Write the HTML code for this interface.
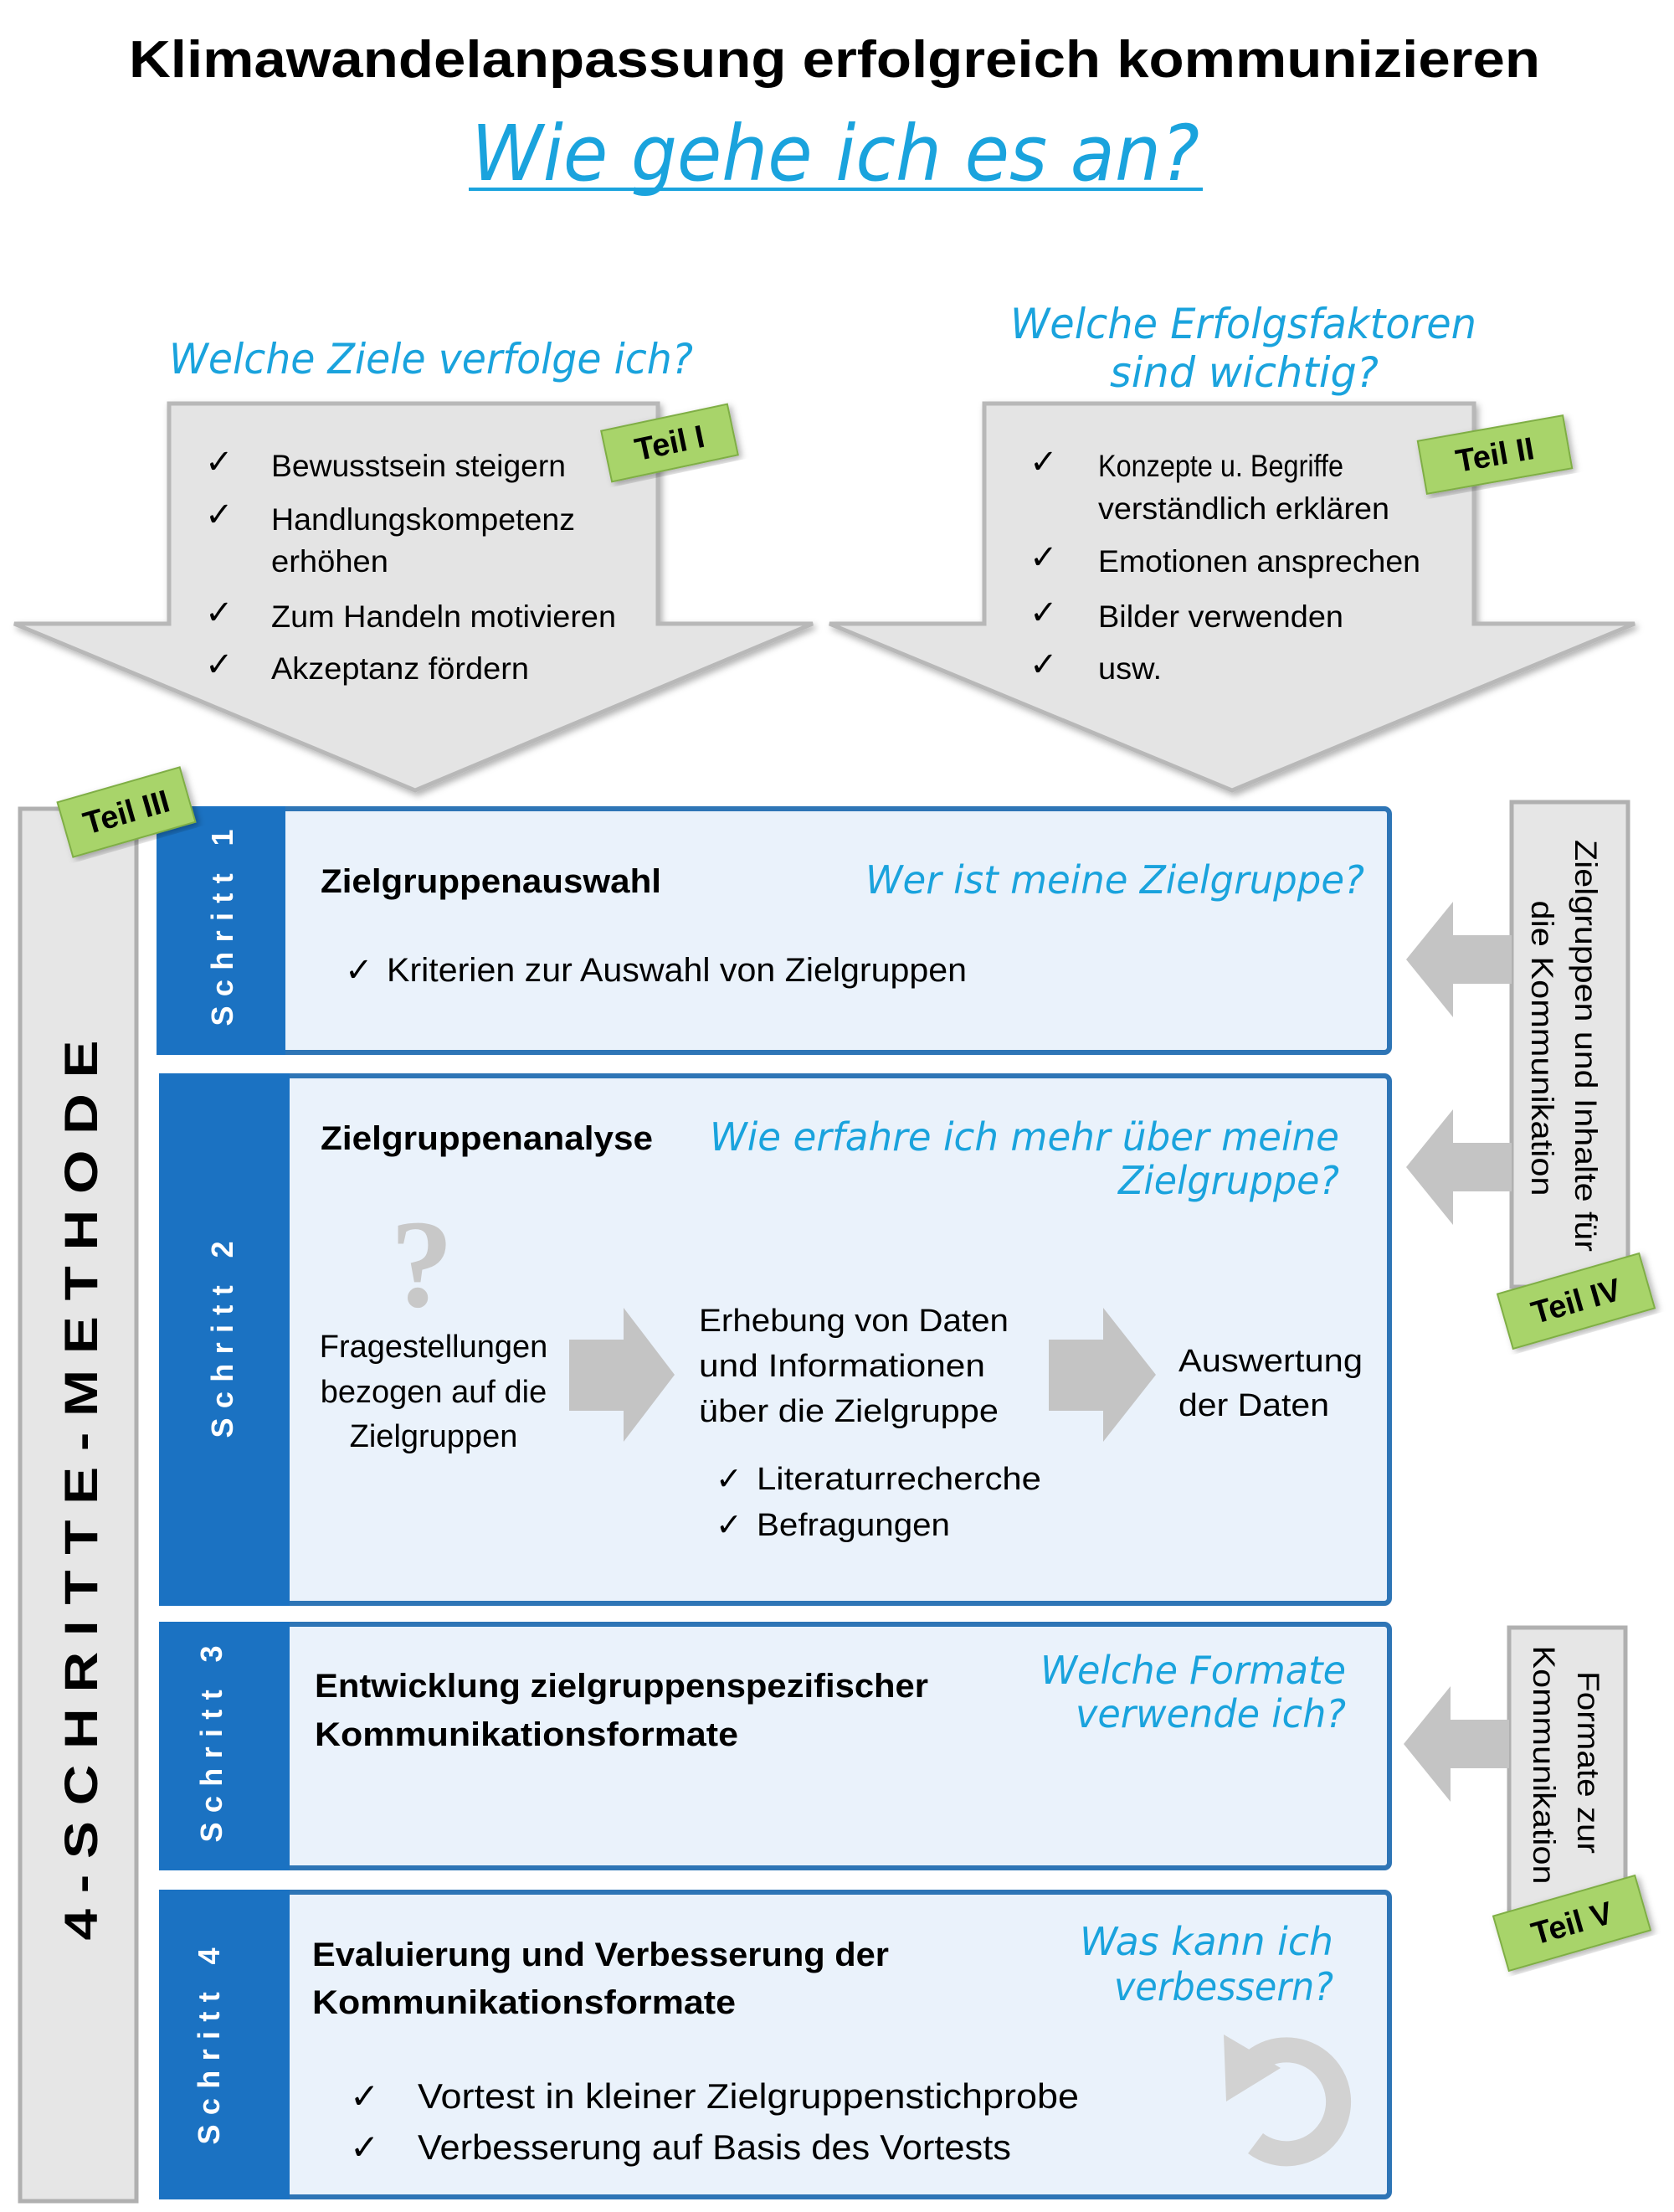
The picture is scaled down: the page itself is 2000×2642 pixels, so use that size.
<!DOCTYPE html>
<html><head><meta charset="utf-8"><style>
html,body{margin:0;padding:0;background:#fff;}
svg{display:block;}
.t{font-family:"Liberation Sans",sans-serif;}
.q{font-family:"DejaVu Sans","Liberation Sans",sans-serif;font-style:italic;fill:#1aa3dd;}
</style></head><body>
<svg width="2000" height="2642" viewBox="0 0 2000 2642" xmlns="http://www.w3.org/2000/svg">
<defs>
<filter id="sh" x="-10%" y="-10%" width="120%" height="120%"><feDropShadow dx="3" dy="4" stdDeviation="4" flood-color="#000" flood-opacity="0.3"/></filter>
</defs>
<!-- Title -->
<text class="t" x="997" y="92" text-anchor="middle" font-size="62" font-weight="bold" textLength="1686" lengthAdjust="spacingAndGlyphs">Klimawandelanpassung erfolgreich kommunizieren</text>
<text class="q" x="998" y="215" text-anchor="middle" font-size="92" textLength="870" lengthAdjust="spacingAndGlyphs">Wie gehe ich es an?</text>
<line x1="560" y1="226" x2="1437" y2="226" stroke="#1aa3dd" stroke-width="4"/>

<!-- question headers -->
<text class="q" x="202" y="446" font-size="50" textLength="626" lengthAdjust="spacingAndGlyphs">Welche Ziele verfolge ich?</text>
<text class="q" x="1207" y="404" font-size="50" textLength="557" lengthAdjust="spacingAndGlyphs">Welche Erfolgsfaktoren</text>
<text class="q" x="1326" y="462" font-size="50" textLength="321" lengthAdjust="spacingAndGlyphs">sind wichtig?</text>

<!-- big arrows -->
<polygon points="202,482 786,482 786,745 971,745 496,944 17,745 202,745" fill="#e4e4e4" stroke="#b8b8b8" stroke-width="5" filter="url(#sh)"/>
<polygon points="1176,482 1761,482 1761,745 1953,745 1472,944 991,745 1176,745" fill="#e4e4e4" stroke="#b8b8b8" stroke-width="5" filter="url(#sh)"/>

<g class="t" font-size="37">
<text x="245" y="565" font-size="40">✓</text><text x="324" y="569" textLength="352" lengthAdjust="spacingAndGlyphs">Bewusstsein steigern</text>
<text x="245" y="628" font-size="40">✓</text><text x="324" y="633" textLength="363" lengthAdjust="spacingAndGlyphs">Handlungskompetenz</text>
<text x="324" y="683" textLength="140" lengthAdjust="spacingAndGlyphs">erhöhen</text>
<text x="245" y="745" font-size="40">✓</text><text x="324" y="749" textLength="412" lengthAdjust="spacingAndGlyphs">Zum Handeln motivieren</text>
<text x="245" y="807" font-size="40">✓</text><text x="324" y="811" textLength="308" lengthAdjust="spacingAndGlyphs">Akzeptanz fördern</text>

<text x="1230" y="565" font-size="40">✓</text><text x="1312" y="569" textLength="293" lengthAdjust="spacingAndGlyphs">Konzepte u. Begriffe</text>
<text x="1312" y="620" textLength="348" lengthAdjust="spacingAndGlyphs">verständlich erklären</text>
<text x="1230" y="679" font-size="40">✓</text><text x="1312" y="683" textLength="385" lengthAdjust="spacingAndGlyphs">Emotionen ansprechen</text>
<text x="1230" y="745" font-size="40">✓</text><text x="1312" y="749" textLength="293" lengthAdjust="spacingAndGlyphs">Bilder verwenden</text>
<text x="1230" y="807" font-size="40">✓</text><text x="1312" y="811" textLength="76" lengthAdjust="spacingAndGlyphs">usw.</text>
</g>

<!-- left bar -->
<rect x="24" y="966" width="139" height="1663" fill="#e6e6e6" stroke="#b0b0b0" stroke-width="5"/>
<text class="t" transform="translate(116,1780) rotate(-90)" text-anchor="middle" font-size="56" font-weight="bold" textLength="1075" lengthAdjust="spacingAndGlyphs">4 - S C H R I T T E - M E T H O D E</text>

<!-- Schritt boxes -->
<g stroke="#2e75b6" stroke-width="6">
<rect x="190" y="966" width="1470" height="291" rx="6" fill="#eaf2fb"/>
<rect x="193" y="1285" width="1467" height="630" rx="6" fill="#eaf2fb"/>
<rect x="193" y="1940" width="1467" height="291" rx="6" fill="#eaf2fb"/>
<rect x="193" y="2260" width="1467" height="364" rx="6" fill="#eaf2fb"/>
</g>
<g fill="#1b72c2">
<rect x="187" y="963" width="154" height="297"/>
<rect x="190" y="1282" width="156" height="636"/>
<rect x="190" y="1937" width="156" height="297"/>
<rect x="190" y="2257" width="156" height="370"/>
</g>
<g class="t" fill="#fff" font-size="36" font-weight="bold" text-anchor="middle">
<text transform="translate(278,1108) rotate(-90)" textLength="235" lengthAdjust="spacing">Schritt 1</text>
<text transform="translate(278,1600) rotate(-90)" textLength="235" lengthAdjust="spacing">Schritt 2</text>
<text transform="translate(265,2083) rotate(-90)" textLength="235" lengthAdjust="spacing">Schritt 3</text>
<text transform="translate(262,2444) rotate(-90)" textLength="235" lengthAdjust="spacing">Schritt 4</text>
</g>

<!-- box1 -->
<text class="t" x="383" y="1066" font-size="40" font-weight="bold" textLength="407" lengthAdjust="spacingAndGlyphs">Zielgruppenauswahl</text>
<text class="q" x="1034" y="1067" font-size="46" textLength="596" lengthAdjust="spacingAndGlyphs">Wer ist meine Zielgruppe?</text>
<text class="t" x="412" y="1172" font-size="40">✓</text>
<text class="t" x="462" y="1172" font-size="40" textLength="693" lengthAdjust="spacingAndGlyphs">Kriterien zur Auswahl von Zielgruppen</text>

<!-- box2 -->
<text class="t" x="383" y="1373" font-size="40" font-weight="bold" textLength="397" lengthAdjust="spacingAndGlyphs">Zielgruppenanalyse</text>
<text class="q" x="848" y="1374" font-size="46" textLength="752" lengthAdjust="spacingAndGlyphs">Wie erfahre ich mehr über meine</text>
<text class="q" x="1336" y="1426" font-size="46" textLength="264" lengthAdjust="spacingAndGlyphs">Zielgruppe?</text>
<text x="504" y="1560" text-anchor="middle" font-family="Liberation Serif,serif" font-weight="bold" font-size="150" fill="#c8c8c8">?</text>
<g class="t" font-size="38" text-anchor="middle">
<text x="518" y="1621">Fragestellungen</text>
<text x="518" y="1675">bezogen auf die</text>
<text x="518" y="1728">Zielgruppen</text>
</g>
<polygon points="680,1600 745,1600 745,1562 806,1642 745,1722 745,1685 680,1685" fill="#c4c4c4"/>
<polygon points="1253,1600 1318,1600 1318,1562 1381,1642 1318,1722 1318,1685 1253,1685" fill="#c4c4c4"/>
<g class="t" font-size="38">
<text x="835" y="1590" textLength="370" lengthAdjust="spacingAndGlyphs">Erhebung von Daten</text>
<text x="835" y="1644" textLength="342" lengthAdjust="spacingAndGlyphs">und Informationen</text>
<text x="835" y="1698" textLength="358" lengthAdjust="spacingAndGlyphs">über die Zielgruppe</text>
<text x="1408" y="1638" textLength="220" lengthAdjust="spacingAndGlyphs">Auswertung</text>
<text x="1408" y="1691" textLength="180" lengthAdjust="spacingAndGlyphs">der Daten</text>
<text x="855" y="1779">✓</text><text x="904" y="1779" textLength="340" lengthAdjust="spacingAndGlyphs">Literaturrecherche</text>
<text x="855" y="1834">✓</text><text x="904" y="1834" textLength="231" lengthAdjust="spacingAndGlyphs">Befragungen</text>
</g>

<!-- box3 -->
<text class="t" x="376" y="2027" font-size="40" font-weight="bold" textLength="733" lengthAdjust="spacingAndGlyphs">Entwicklung zielgruppenspezifischer</text>
<text class="t" x="376" y="2085" font-size="40" font-weight="bold" textLength="506" lengthAdjust="spacingAndGlyphs">Kommunikationsformate</text>
<text class="q" x="1243" y="2011" font-size="46" textLength="365" lengthAdjust="spacingAndGlyphs">Welche Formate</text>
<text class="q" x="1285" y="2063" font-size="46" textLength="323" lengthAdjust="spacingAndGlyphs">verwende ich?</text>

<!-- box4 -->
<text class="t" x="373" y="2348" font-size="40" font-weight="bold" textLength="689" lengthAdjust="spacingAndGlyphs">Evaluierung und Verbesserung der</text>
<text class="t" x="373" y="2405" font-size="40" font-weight="bold" textLength="506" lengthAdjust="spacingAndGlyphs">Kommunikationsformate</text>
<text class="q" x="1290" y="2335" font-size="46" textLength="303" lengthAdjust="spacingAndGlyphs">Was kann ich</text>
<text class="q" x="1331" y="2389" font-size="46" textLength="262" lengthAdjust="spacingAndGlyphs">verbessern?</text>
<g class="t" font-size="42">
<text x="418" y="2518">✓</text><text x="499" y="2518" textLength="790" lengthAdjust="spacingAndGlyphs">Vortest in kleiner Zielgruppenstichprobe</text>
<text x="418" y="2579">✓</text><text x="499" y="2579" textLength="709" lengthAdjust="spacingAndGlyphs">Verbesserung auf Basis des Vortests</text>
</g>
<path d="M1490,2470 A62,62 0 1 1 1500,2560" fill="none" stroke="#d2d2d2" stroke-width="30"/>
<polygon points="1462,2430 1530,2470 1465,2510" fill="#d2d2d2"/>

<!-- right bars -->
<rect x="1806" y="958" width="139" height="579" fill="#e6e6e6" stroke="#b0b0b0" stroke-width="5"/>
<rect x="1803" y="1944" width="139" height="341" fill="#e6e6e6" stroke="#b0b0b0" stroke-width="5"/>
<g class="t" font-size="37" text-anchor="middle">
<text transform="translate(1882,1249) rotate(90)" textLength="492" lengthAdjust="spacingAndGlyphs">Zielgruppen und Inhalte für</text>
<text transform="translate(1830,1252) rotate(90)" textLength="353" lengthAdjust="spacingAndGlyphs">die Kommunikation</text>
<text transform="translate(1885,2105) rotate(90)" textLength="218" lengthAdjust="spacingAndGlyphs">Formate zur</text>
<text transform="translate(1832,2108) rotate(90)" textLength="285" lengthAdjust="spacingAndGlyphs">Kommunikation</text>
</g>
<g fill="#c4c4c4">
<polygon points="1806,1117 1736,1117 1736,1077 1680,1146 1736,1215 1736,1175 1806,1175"/>
<polygon points="1806,1365 1736,1365 1736,1325 1680,1394 1736,1463 1736,1423 1806,1423"/>
<polygon points="1803,2054 1733,2054 1733,2014 1677,2083 1733,2152 1733,2112 1803,2112"/>
</g>

<!-- tags -->
<g class="t" font-weight="bold" font-size="38" text-anchor="middle">
<g transform="translate(800,529) rotate(-12)"><rect x="-77" y="-31" width="154" height="62" fill="#a8d46a" stroke="#7fae45" stroke-width="2" filter="url(#sh)"/><text y="13">Teil I</text></g>
<g transform="translate(1786,543) rotate(-10)"><rect x="-88" y="-32" width="176" height="64" fill="#a8d46a" stroke="#7fae45" stroke-width="2" filter="url(#sh)"/><text y="13">Teil II</text></g>
<g transform="translate(151,970) rotate(-16)"><rect x="-76" y="-34" width="152" height="68" fill="#a8d46a" stroke="#7fae45" stroke-width="2" filter="url(#sh)"/><text y="13">Teil III</text></g>
<g transform="translate(1883,1554) rotate(-16)"><rect x="-88" y="-34" width="176" height="68" fill="#a8d46a" stroke="#7fae45" stroke-width="2" filter="url(#sh)"/><text y="13">Teil IV</text></g>
<g transform="translate(1878,2297) rotate(-16)"><rect x="-88" y="-34" width="176" height="68" fill="#a8d46a" stroke="#7fae45" stroke-width="2" filter="url(#sh)"/><text y="13">Teil V</text></g>
</g>
</svg>
</body></html>
